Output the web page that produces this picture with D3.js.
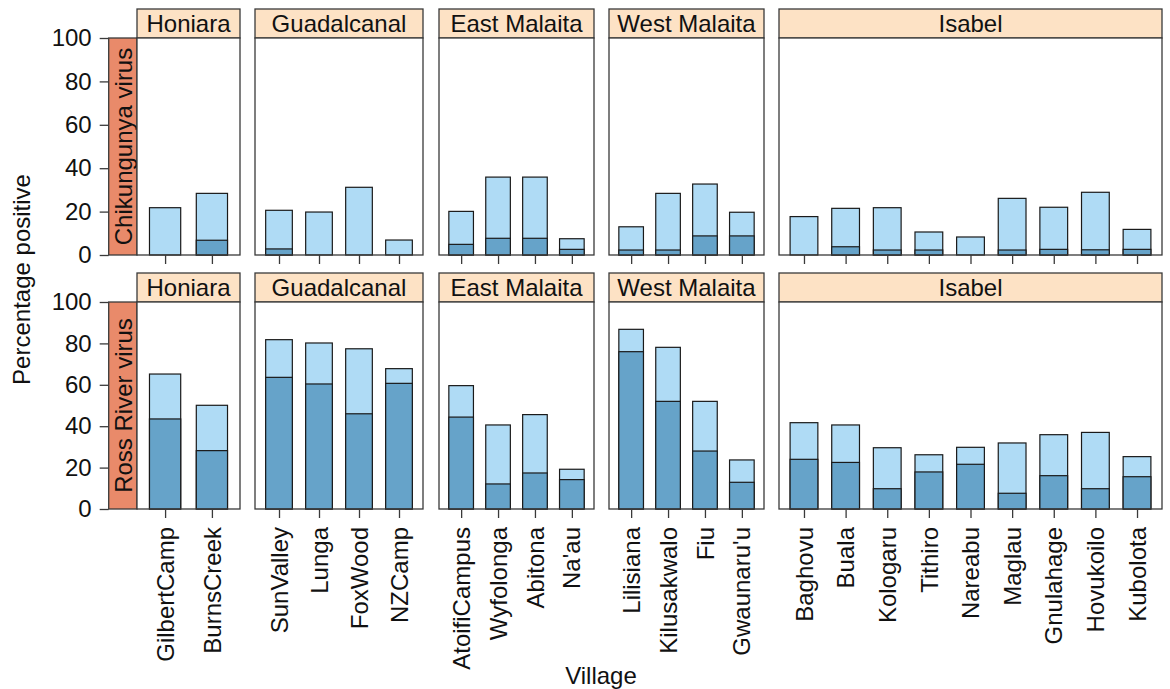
<!DOCTYPE html>
<html>
<head>
<meta charset="utf-8">
<script src="https://cdn.jsdelivr.net/npm/d3@7"></script>
<style>
  html, body { margin: 0; padding: 0; background: #ffffff; }
  svg { display: block; }
  text { font-family: "Liberation Sans", Arial, Helvetica, sans-serif; fill: #111; }
</style>
</head>
<body>
<svg id="chart" width="1170" height="689"></svg>
<script>
// ---- data -------------------------------------------------------------
const regions = ["Honiara", "Guadalcanal", "East Malaita", "West Malaita", "Isabel"];

const villages = [
  ["GilbertCamp", "BurnsCreek"],
  ["SunValley", "Lunga", "FoxWood", "NZCamp"],
  ["AtoifiCampus", "Wyfolonga", "Abitona", "Na'au"],
  ["Lilisiana", "Kilusakwalo", "Fiu", "Gwaunaru'u"],
  ["Baghovu", "Buala", "Kologaru", "Tithiro", "Nareabu", "Maglau", "Gnulahage", "Hovukoilo", "Kubolota"]
];

const viruses = ["Chikungunya virus", "Ross River virus"];

// Chikungunya virus: overall positive (light) and the darker sub-share
const chikTotal = [
  [21.8, 28.4],
  [20.6, 19.8, 31.2, 6.9],
  [20.1, 35.9, 35.9, 7.5],
  [13.0, 28.4, 32.7, 19.7],
  [17.7, 21.5, 21.8, 10.6, 8.3, 26.1, 22.0, 28.9, 11.8]
];
const chikDark = [
  [0, 6.8],
  [2.8, 0, 0, 0],
  [4.9, 7.7, 7.7, 2.6],
  [2.3, 2.3, 8.8, 8.8],
  [0, 3.8, 2.3, 2.3, 0, 2.3, 2.6, 2.4, 2.6]
];

// Ross River virus
const rrTotal = [
  [65.2, 50.1],
  [81.8, 80.2, 77.4, 67.8],
  [59.6, 40.6, 45.6, 19.2],
  [86.8, 78.1, 52.0, 23.7],
  [41.7, 40.6, 29.6, 26.2, 29.8, 31.9, 35.9, 37.0, 25.3]
];
const rrDark = [
  [43.5, 28.2],
  [63.6, 60.4, 46.0, 60.7],
  [44.4, 12.1, 17.4, 14.2],
  [76.0, 52.0, 28.0, 12.9],
  [24.0, 22.5, 9.8, 17.9, 21.6, 7.6, 16.1, 9.8, 15.6]
];

const yTicks = [0, 20, 40, 60, 80, 100];

// ---- layout -----------------------------------------------------------
const panelEdges = [[137, 240], [255, 423], [439, 594], [609, 764], [779, 1162]];
const rowLayout = [
  { stripTop: 9,   top: 38,  bottom: 255 },
  { stripTop: 273, top: 302, bottom: 509 }
];
const sideStrip = { left: 108.7, right: 137 };
const FONT = 24;

const colLight = "#afdbf5";
const colDark = "#66a3c9";
const colStrip = "#fde2c5";
const colSide = "#e98a6a";
const colFrame = "#3a3a3a";

const svg = d3.select("#chart");

const rowData = [
  { total: chikTotal, dark: chikDark },
  { total: rrTotal, dark: rrDark }
];

rowData.forEach((rd, r) => {
  const L = rowLayout[r];
  const y = d3.scaleLinear().domain([0, 100]).range([L.bottom, L.top]);
  const g = svg.append("g");

  // y axis with ticks, left of the side strip
  const yAxis = d3.axisLeft(y).tickValues(yTicks).tickSize(9).tickPadding(8).tickSizeOuter(0);
  const ya = g.append("g").attr("transform", `translate(${sideStrip.left},0)`).call(yAxis);
  ya.select(".domain").remove();
  ya.selectAll(".tick line").attr("stroke", colFrame).attr("stroke-width", 1.3);
  ya.selectAll(".tick text").attr("font-size", FONT).attr("font-family", "Liberation Sans, Arial, sans-serif").attr("fill", "#111");

  // side strip holding the virus name
  g.append("rect")
    .attr("x", sideStrip.left).attr("y", L.top)
    .attr("width", sideStrip.right - sideStrip.left).attr("height", L.bottom - L.top)
    .attr("fill", colSide).attr("stroke", colFrame).attr("stroke-width", 1.3);
  g.append("text")
    .attr("transform", `translate(${(sideStrip.left + sideStrip.right) / 2 + 1},${(L.top + L.bottom) / 2}) rotate(-90)`)
    .attr("text-anchor", "middle").attr("dy", "0.36em")
    .attr("font-size", FONT)
    .text(viruses[r]);

  regions.forEach((reg, p) => {
    const [x0, x1] = panelEdges[p];
    const names = villages[p];
    const n = names.length;
    const x = d3.scaleLinear().domain([0.4, n + 0.6]).range([x0, x1]);
    const bw = (x(1) - x(0)) * 2 / 3;
    const pg = g.append("g");

    // strip with region name
    pg.append("rect")
      .attr("x", x0).attr("y", L.stripTop)
      .attr("width", x1 - x0).attr("height", L.top - L.stripTop)
      .attr("fill", colStrip).attr("stroke", colFrame).attr("stroke-width", 1.3);
    pg.append("text")
      .attr("x", (x0 + x1) / 2).attr("y", (L.stripTop + L.top) / 2)
      .attr("text-anchor", "middle").attr("dy", "0.36em")
      .attr("font-size", FONT)
      .text(reg);

    // panel background
    pg.append("rect")
      .attr("x", x0).attr("y", L.top)
      .attr("width", x1 - x0).attr("height", L.bottom - L.top)
      .attr("fill", "#ffffff");

    const rows = names.map((v, i) => ({ v, i: i + 1, total: rd.total[p][i], dark: rd.dark[p][i] }));

    // light bars: total positive
    pg.selectAll("rect.light").data(rows).join("rect")
      .attr("class", "light")
      .attr("x", d => x(d.i) - bw / 2).attr("width", bw)
      .attr("y", d => y(d.total)).attr("height", d => y(0) - y(d.total))
      .attr("fill", colLight).attr("stroke", "#1a1a1a").attr("stroke-width", 1.2);

    // dark bars overlaid
    pg.selectAll("rect.dark").data(rows.filter(d => d.dark > 0)).join("rect")
      .attr("class", "dark")
      .attr("x", d => x(d.i) - bw / 2).attr("width", bw)
      .attr("y", d => y(d.dark)).attr("height", d => y(0) - y(d.dark))
      .attr("fill", colDark).attr("stroke", "#1a1a1a").attr("stroke-width", 1.2);

    // panel frame
    pg.append("rect")
      .attr("x", x0).attr("y", L.top)
      .attr("width", x1 - x0).attr("height", L.bottom - L.top)
      .attr("fill", "none").attr("stroke", colFrame).attr("stroke-width", 1.3);

    // x ticks below the panel
    const xAxis = d3.axisBottom(x).tickValues(d3.range(1, n + 1)).tickSize(9).tickFormat("").tickSizeOuter(0);
    const xa = pg.append("g").attr("transform", `translate(0,${L.bottom})`).call(xAxis);
    xa.select(".domain").remove();
    xa.selectAll(".tick line").attr("stroke", colFrame).attr("stroke-width", 1.3);

    // village labels under the bottom row only
    if (r === rowLayout.length - 1) {
      pg.selectAll("text.vlab").data(rows).join("text")
        .attr("class", "vlab")
        .attr("transform", d => `translate(${x(d.i)},${L.bottom + 18}) rotate(-90)`)
        .attr("text-anchor", "end").attr("dy", "0.36em")
        .attr("font-size", FONT)
        .text(d => d.v);
    }
  });
});

// axis titles
svg.append("text")
  .attr("transform", `translate(30,${(rowLayout[0].top + rowLayout[1].bottom) / 2 + 6}) rotate(-90)`)
  .attr("text-anchor", "middle")
  .attr("font-size", FONT)
  .text("Percentage positive");

svg.append("text")
  .attr("x", 601).attr("y", 684)
  .attr("text-anchor", "middle")
  .attr("font-size", FONT)
  .text("Village");
</script>
</body>
</html>
